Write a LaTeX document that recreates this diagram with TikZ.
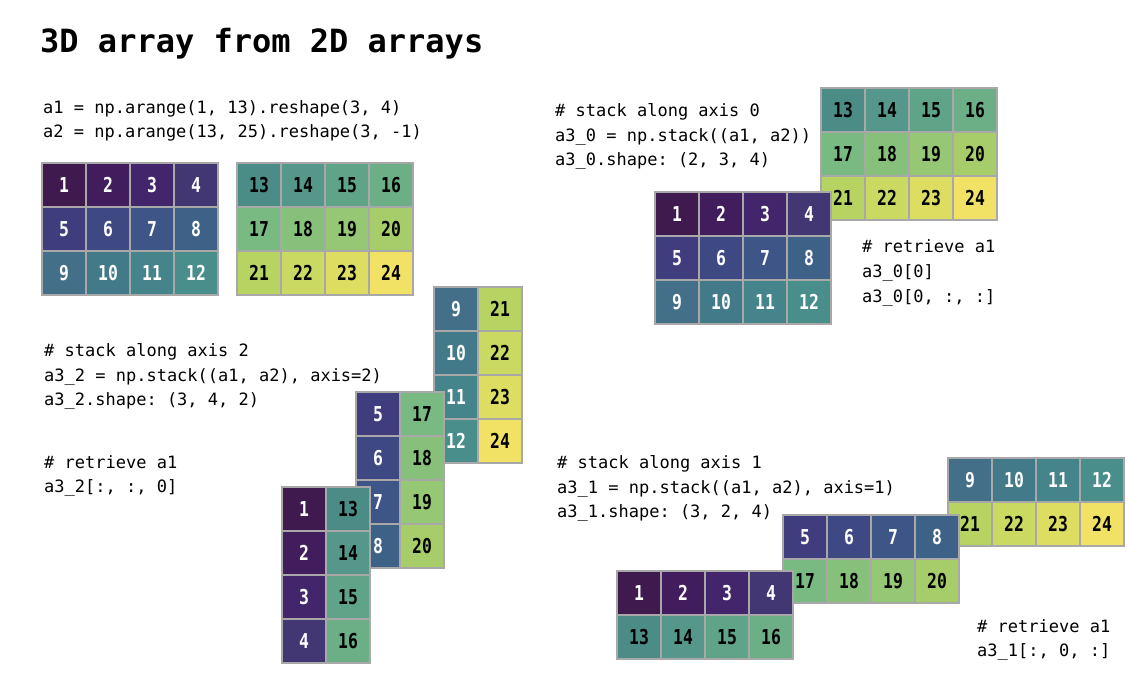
\documentclass[tikz,border=0pt]{standalone}
\usepackage{fontspec}
\usepackage{xcolor}
\setmonofont{DejaVu Sans Mono}
\newfontfamily\cellfont{DejaVu Sans Mono}[FakeStretch=0.8]

\definecolor{cellgrey}{HTML}{A8A8A8}
\definecolor{v1}{HTML}{3E1A4F}
\definecolor{v2}{HTML}{421D5D}
\definecolor{v3}{HTML}{42256A}
\definecolor{v4}{HTML}{423673}
\definecolor{v5}{HTML}{3F3D7E}
\definecolor{v6}{HTML}{3E4984}
\definecolor{v7}{HTML}{3E5587}
\definecolor{v8}{HTML}{3E6287}
\definecolor{v9}{HTML}{436F88}
\definecolor{v10}{HTML}{437A8A}
\definecolor{v11}{HTML}{44848A}
\definecolor{v12}{HTML}{4A8E8C}
\definecolor{v13}{HTML}{4C8C87}
\definecolor{v14}{HTML}{55978A}
\definecolor{v15}{HTML}{5FA389}
\definecolor{v16}{HTML}{6CAF86}
\definecolor{v17}{HTML}{79B982}
\definecolor{v18}{HTML}{86C07B}
\definecolor{v19}{HTML}{96C774}
\definecolor{v20}{HTML}{A6CD69}
\definecolor{v21}{HTML}{B7D361}
\definecolor{v22}{HTML}{C9D961}
\definecolor{v23}{HTML}{DCDD61}
\definecolor{v24}{HTML}{F1E266}

\tikzset{
  cell/.style={draw=cellgrey,line width=1.6pt,minimum size=44pt,inner sep=0pt,outer sep=0pt,
    font=\cellfont\bfseries\fontsize{20.5}{20}\selectfont},
  code/.style={anchor=base west,inner sep=0pt,font=\ttfamily\fontsize{17}{20}\selectfont}
}
% name, x, y, value
\newcommand{\arrcell}[4]{%
  \ifnum#4<13 \def\tc{white}\else\def\tc{black}\fi
  \node[cell,fill=v#4,text=\tc] (#1) at (#2,#3) {#4};}

\begin{document}
\begin{tikzpicture}[x=1pt,y=-1pt]
\path[use as bounding box,fill=white] (0,0) rectangle (1130,686);

\node[anchor=base west,inner sep=0pt,font=\ttfamily\bfseries\fontsize{32}{32}\selectfont] (title) at (40,52) {3D array from 2D arrays};

% a1, a2
\node[code] (def1) at (43,113) {a1 = np.arange(1, 13).reshape(3, 4)};
\node[code] (def2) at (43,137) {a2 = np.arange(13, 25).reshape(3, -1)};
\foreach \r in {0,1,2} \foreach \c in {0,...,3} {
  \pgfmathtruncatemacro\v{4*\r+\c+1}\pgfmathtruncatemacro\w{\v+12}
  \arrcell{a1-\v}{64+44*\c}{185+44*\r}{\v}
  \arrcell{a2-\w}{259+44*\c}{185+44*\r}{\w}
}

% axis 0
\node[code] (ax0-1) at (555,116) {\# stack along axis 0};
\node[code] (ax0-2) at (555,141) {a3\_0 = np.stack((a1, a2))};
\node[code] (ax0-3) at (555,165) {a3\_0.shape: (2, 3, 4)};
\foreach \r in {0,1,2} \foreach \c in {0,...,3} {
  \pgfmathtruncatemacro\w{4*\r+\c+13}
  \arrcell{s0b-\w}{843+44*\c}{110+44*\r}{\w}
}
\foreach \r in {0,1,2} \foreach \c in {0,...,3} {
  \pgfmathtruncatemacro\v{4*\r+\c+1}
  \arrcell{s0a-\v}{677+44*\c}{214+44*\r}{\v}
}
\node[code] (get0-1) at (862,252) {\# retrieve a1};
\node[code] (get0-2) at (862,277) {a3\_0[0]};
\node[code] (get0-3) at (862,302) {a3\_0[0, :, :]};

% axis 2
\node[code] (ax2-1) at (44,356) {\# stack along axis 2};
\node[code] (ax2-2) at (44,381) {a3\_2 = np.stack((a1, a2), axis=2)};
\node[code] (ax2-3) at (44,405) {a3\_2.shape: (3, 4, 2)};
\node[code] (get2-1) at (44,468) {\# retrieve a1};
\node[code] (get2-2) at (44,492) {a3\_2[:, :, 0]};
\foreach \r/\ox/\oy in {2/434/287,1/356/392,0/282/487} \foreach \k in {0,...,3} {
  \pgfmathtruncatemacro\v{4*\r+\k+1}\pgfmathtruncatemacro\w{\v+12}
  \arrcell{s2-\v}{\ox+22}{\oy+22+44*\k}{\v}
  \arrcell{s2-\w}{\ox+66}{\oy+22+44*\k}{\w}
}

% axis 1
\node[code] (ax1-1) at (557,468) {\# stack along axis 1};
\node[code] (ax1-2) at (557,493) {a3\_1 = np.stack((a1, a2), axis=1)};
\node[code] (ax1-3) at (557,517) {a3\_1.shape: (3, 2, 4)};
\foreach \r/\ox/\oy in {2/948/458,1/783/515,0/617/571} \foreach \c in {0,...,3} {
  \pgfmathtruncatemacro\v{4*\r+\c+1}\pgfmathtruncatemacro\w{\v+12}
  \arrcell{s1-\v}{\ox+22+44*\c}{\oy+22}{\v}
  \arrcell{s1-\w}{\ox+22+44*\c}{\oy+66}{\w}
}
\node[code] (get1-1) at (977,632) {\# retrieve a1};
\node[code] (get1-2) at (977,656) {a3\_1[:, 0, :]};
\end{tikzpicture}
\end{document}
